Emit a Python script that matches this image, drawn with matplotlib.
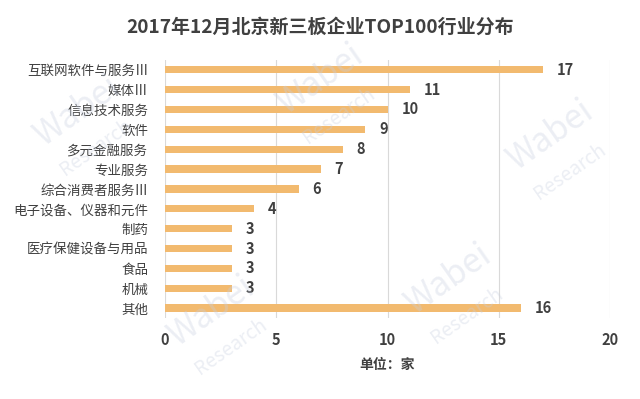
import numpy as np
import matplotlib.pyplot as plt

plt.rcParams['font.family'] = ['Noto Sans CJK SC', 'DejaVu Sans']

# 行业与企业数量（家）
hangye = ['互联网软件与服务Ⅲ', '媒体Ⅲ', '信息技术服务', '软件', '多元金融服务', '专业服务',
          '综合消费者服务Ⅲ', '电子设备、仪器和元件', '制药', '医疗保健设备与用品', '食品', '机械', '其他']
sayi = [17, 11, 10, 9, 8, 7, 6, 4, 3, 3, 3, 3, 16]
x_ticks = [0, 5, 10, 15, 20]

renk = '#F2BA6F'
yazi = '#404040'

fig = plt.figure(figsize=(6.4, 3.99), dpi=100)
ax = fig.add_axes([0.258, 0.203, 0.695, 0.647])

y = np.arange(len(hangye))
ax.barh(y, sayi, height=0.36, color=renk, zorder=3)
ax.set_ylim(len(hangye) - 0.5, -0.5)
ax.set_xlim(0, 20)
ax.set_yticks(y)
ax.set_yticklabels(hangye, fontsize=9.7, color=yazi)
ax.set_xticks(x_ticks)
ax.set_xticklabels([str(t) for t in x_ticks], fontsize=10.5, color=yazi, fontweight='bold')
ax.tick_params(axis='both', length=0)
ax.tick_params(axis='x', pad=10)
ax.tick_params(axis='y', pad=12)
ax.grid(axis='x', color='#D9D9D9', linewidth=0.8, zorder=0)
for s in ax.spines.values():
    s.set_visible(False)

# değer etiketleri
for i, v in enumerate(sayi):
    ax.text(v + 0.62, i, str(v), va='center', ha='left', fontsize=10.5,
            fontweight='bold', color=yazi, zorder=4)

ax.set_xlabel('单位：家', fontsize=10, color=yazi, fontweight='bold', labelpad=7)
fig.text(0.5, 0.932, '2017年12月北京新三板企业TOP100行业分布', ha='center', va='center',
         fontsize=13.7, fontweight='bold', color=yazi)

# filigran
for (fx, fy) in [(0.12, 0.72), (0.50, 0.80), (0.86, 0.66), (0.33, 0.22), (0.70, 0.30)]:
    fig.text(fx, fy, 'Wabei', fontsize=24, color='#C8D0E0', alpha=0.35, rotation=35,
             ha='center', va='center', zorder=0)
    fig.text(fx + 0.03, fy - 0.09, 'Research', fontsize=14, color='#C8D0E0', alpha=0.35,
             rotation=35, ha='center', va='center', zorder=0)

plt.savefig('out.png', dpi=100)
